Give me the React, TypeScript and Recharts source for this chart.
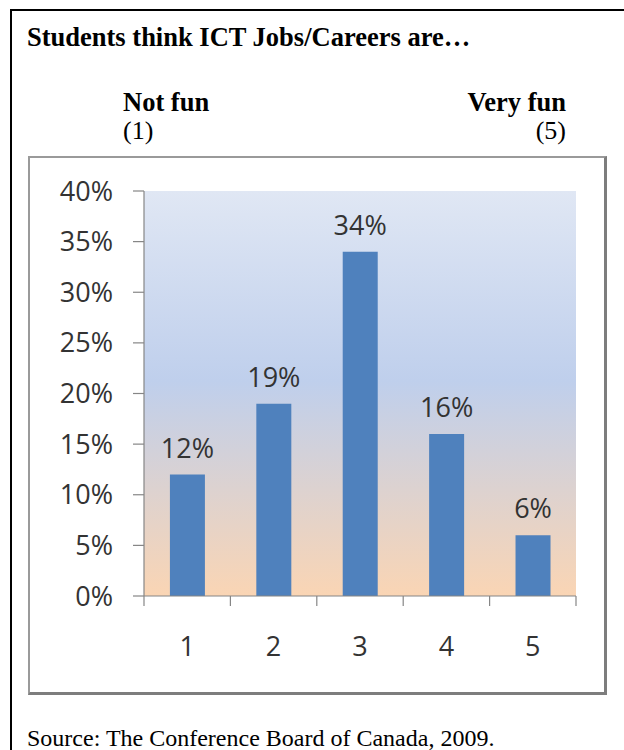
import React from 'react';
import { BarChart, Bar, XAxis, YAxis, CartesianGrid, LabelList } from 'recharts';

// Survey response scale and the share of students choosing each point
const ratings = ['1', '2', '3', '4', '5'];
const shares = [12, 19, 34, 16, 6];
const yTicks = [0, 5, 10, 15, 20, 25, 30, 35, 40];

const data = ratings.map((rating, i) => ({ rating, share: shares[i] }));

const CHART_W = 574;
const CHART_H = 534;
const MARGIN = { top: 33, right: 28, left: 0, bottom: 0 };
const YAXIS_W = 114;
const XAXIS_H = 96;
const PLOT_W = CHART_W - MARGIN.left - MARGIN.right - YAXIS_W;
const BAND = PLOT_W / ratings.length;

const AXIS_GRAY = '#868686';
const TEXT = '#333333';
const CHART_FONT = '"Open Sans", "Noto Sans", sans-serif';
const SERIF = '"Liberation Serif", "Times New Roman", serif';

// Category label centred in its band, with tick marks on the band edges
const RatingTick = (props: any) => {
  const { x, y, payload, index } = props;
  const left = x - BAND / 2;
  const right = x + BAND / 2;
  return (
    <g>
      <line x1={left} x2={left} y1={y} y2={y + 10} stroke={AXIS_GRAY} strokeWidth={1.2} />
      {index === ratings.length - 1 && (
        <line x1={right} x2={right} y1={y} y2={y + 10} stroke={AXIS_GRAY} strokeWidth={1.2} />
      )}
      <text
        x={x}
        y={y + 50}
        dy="0.355em"
        textAnchor="middle"
        fill={TEXT}
        fontSize={27}
        fontFamily={CHART_FONT}
      >
        {payload.value}
      </text>
    </g>
  );
};

export default function App() {
  return (
    <div
      style={{
        position: 'fixed',
        left: 0,
        top: 0,
        width: 624,
        height: 750,
        overflow: 'hidden',
        background: '#ffffff',
      }}
    >
      {/* chart frame */}
      <div
        style={{
          position: 'absolute',
          left: 28,
          top: 156,
          width: 574,
          height: 534,
          borderTop: '2px solid #9a9a9a',
          borderLeft: '2px solid #9a9a9a',
          borderRight: '3px solid #7d7d7d',
          borderBottom: '3px solid #7d7d7d',
          background: '#ffffff',
        }}
      />
      <div style={{ position: 'absolute', left: 30, top: 158 }}>
        <BarChart
          width={CHART_W}
          height={CHART_H}
          data={data}
          margin={MARGIN}
          barCategoryGap="30%"
        >
          <defs>
            <linearGradient id="plotBg" x1="0" y1="0" x2="0" y2="1">
              <stop offset="0%" stopColor="#e0e7f4" />
              <stop offset="47%" stopColor="#bfcfec" />
              <stop offset="100%" stopColor="#fad5b4" />
            </linearGradient>
          </defs>
          <CartesianGrid horizontal={false} vertical={false} fill="url(#plotBg)" fillOpacity={1} />
          <XAxis
            dataKey="rating"
            height={XAXIS_H}
            tickSize={0}
            tickMargin={0}
            tickLine={false}
            axisLine={{ stroke: AXIS_GRAY, strokeWidth: 1.2 }}
            tick={<RatingTick />}
            interval={0}
          />
          <YAxis
            width={YAXIS_W}
            domain={[0, 40]}
            ticks={yTicks}
            interval={0}
            tickSize={11}
            tickMargin={20}
            tickFormatter={(v: number) => `${v}%`}
            axisLine={{ stroke: AXIS_GRAY, strokeWidth: 1.2 }}
            tickLine={{ stroke: AXIS_GRAY, strokeWidth: 1.2 }}
            tick={{ fill: TEXT, fontSize: 27, fontFamily: CHART_FONT }}
          />
          <Bar dataKey="share" fill="#4f81bd" isAnimationActive={false}>
            <LabelList
              dataKey="share"
              position="top"
              offset={17}
              formatter={(v: any) => `${v}%`}
              fill={TEXT}
              fontSize={27}
              fontFamily={CHART_FONT}
            />
          </Bar>
        </BarChart>
      </div>

      {/* page text and outer box */}
      <svg
        width={624}
        height={750}
        style={{ position: 'absolute', left: 0, top: 0, pointerEvents: 'none' }}
      >
        <line x1={10} y1={10} x2={624} y2={10} stroke="#000" strokeWidth={2} />
        <line x1={11} y1={9} x2={11} y2={750} stroke="#000" strokeWidth={2} />
        <text x={27} y={46} fontFamily={SERIF} fontWeight="bold" fontSize={26.5} fill="#000">
          Students think ICT Jobs/Careers are…
        </text>
        <text x={123} y={111} fontFamily={SERIF} fontWeight="bold" fontSize={26.5} fill="#000">
          Not fun
        </text>
        <text x={566} y={111} textAnchor="end" fontFamily={SERIF} fontWeight="bold" fontSize={26.5} fill="#000">
          Very fun
        </text>
        <text x={123} y={139} fontFamily={SERIF} fontSize={26} fill="#000">
          (1)
        </text>
        <text x={566} y={139} textAnchor="end" fontFamily={SERIF} fontSize={26} fill="#000">
          (5)
        </text>
        <text x={27} y={746} fontFamily={SERIF} fontSize={24} fill="#000">
          Source: The Conference Board of Canada, 2009.
        </text>
      </svg>
    </div>
  );
}
